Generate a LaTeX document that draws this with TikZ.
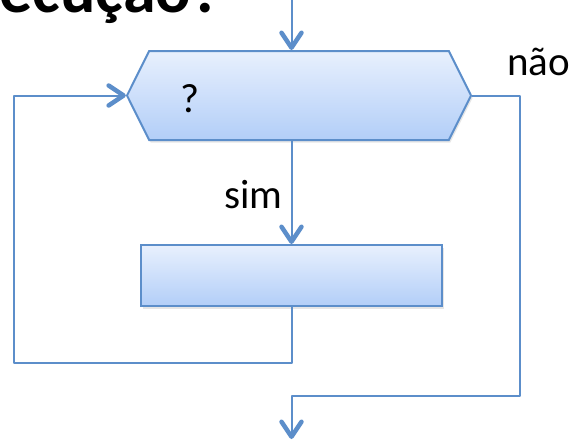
\documentclass[tikz,border=0pt]{standalone}
\usepackage{fontspec}
\setmainfont{Carlito}
\usetikzlibrary{arrows.meta,shapes.symbols,shadows}
\definecolor{linha}{RGB}{92,142,202}
\definecolor{topo}{RGB}{232,240,253}
\definecolor{base}{RGB}{178,206,248}

\begin{document}
\begin{tikzpicture}[x=1pt,y=-1pt,
    fluxo/.style={draw=linha,line width=2pt,line join=round},
    seta/.style={fluxo,-{Straight Barb[length=15pt,width=20pt,line width=4.5pt,round]}},
    caixa/.style={draw=linha,line width=2pt,top color=topo,bottom color=base,
      drop shadow={opacity=.2,shadow xshift=1.5pt,shadow yshift=-2.5pt},inner sep=0pt},
    rotulo/.style={font=\fontsize{41}{48}\selectfont,inner sep=0pt}]
      \useasboundingbox (0,0) rectangle (572,440);
      \clip (0,0) rectangle (572,440);
      \node[font=\bfseries\fontsize{66}{76}\selectfont,inner sep=0pt,anchor=base east] (titulo) at (222,12) {execução?};
      \node[caixa,signal,signal to=west and east,signal pointer angle=127,
        minimum width=344pt,minimum height=89pt] (cond) at (299,95.5) {};
      \node[caixa,rectangle,minimum width=301pt,minimum height=61pt] (corpo) at (291.5,275.5) {};
      \node[rotulo] (interr) at (190,99) {?};
      \coordinate (entra) at (291.5,0);
      \coordinate (volta) at (14,363);
      \coordinate (desvio) at (520,396);
      \coordinate (sai) at (291.5,439);
      \draw[seta] (entra) -- (entra |- cond.north);
      \draw[seta] (corpo.north |- cond.south) -- node[rotulo,pos=.52,left=8pt]{sim} (corpo.north);
      \draw[seta] (corpo.south) |- (volta) |- (cond.west);
      \draw[seta] (cond.east) -| (desvio) -| (sai);
      \node[rotulo,anchor=base west] (nao) at (507,75) {não};
\end{tikzpicture}
\end{document}
